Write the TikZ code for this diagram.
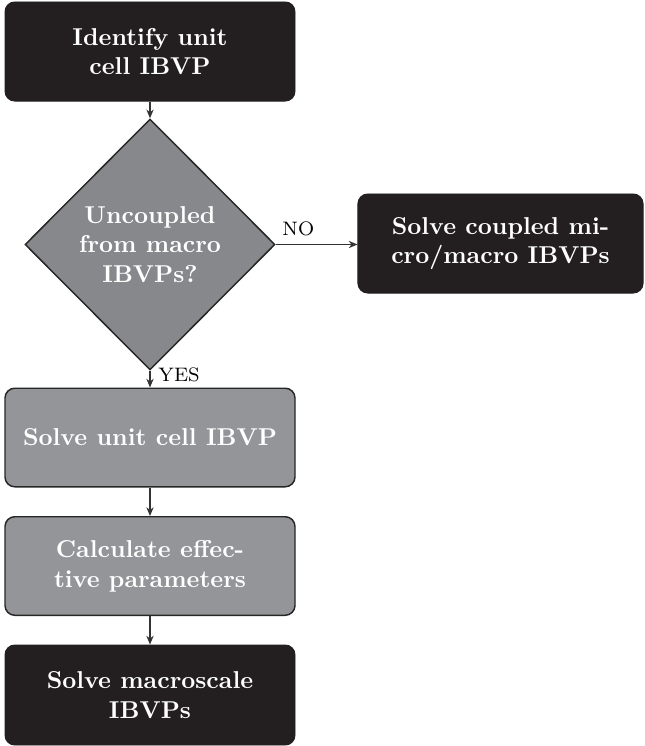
\documentclass[tikz,border=0pt]{standalone}
\usetikzlibrary{shapes.geometric,arrows.meta}
\definecolor{darkfill}{HTML}{231F20}
\definecolor{boxgray}{HTML}{939598}
\definecolor{diagray}{HTML}{87888B}
\tikzset{
  every node/.style={font=\fontsize{10}{12.2}\selectfont},
  darkbox/.style={rectangle, rounded corners=4pt, fill=darkfill, draw=darkfill,
    text=white, font=\fontsize{10}{12.2}\selectfont\bfseries, align=center,
    minimum width=118.9pt, minimum height=40.6pt, inner sep=0pt},
  graybox/.style={rectangle, rounded corners=4pt, fill=boxgray, draw=black!85, line width=0.6pt,
    text=white, font=\fontsize{10}{12.2}\selectfont\bfseries, align=center,
    minimum width=118.9pt, minimum height=40.4pt, inner sep=0pt},
  decision/.style={diamond, fill=diagray, draw=black!85, line width=0.6pt,
    text=white, font=\fontsize{10}{12.2}\selectfont\bfseries, align=center,
    minimum width=102.5pt, minimum height=102.9pt, inner sep=0pt},
  arr/.style={-{Stealth[length=3.6pt,width=3pt]}, line width=0.45pt, draw=black!80},
  lbl/.style={font=\footnotesize, inner sep=0pt}
}
\begin{document}
\begin{tikzpicture}[x=0.41pt, y=-0.41pt]
\useasboundingbox (0,0) rectangle (644,746);
\node[darkbox] (ident) at (150,51.5) {Identify unit\\cell IBVP};
\node[decision] (dec) at (150,244.5) {Uncoupled\\from macro\\IBVPs?};
\node[darkbox, minimum width=116.9pt, minimum height=40.6pt] (coupled) at (500.5,243.5) {Solve coupled mi-\\cro/macro IBVPs};
\node[graybox] (unit) at (150,437.5) {Solve unit cell IBVP};
\node[graybox] (calc) at (150,566) {Calculate effec-\\tive parameters};
\node[darkbox, minimum height=41pt] (macro) at (150,695) {Solve macroscale\\IBVPs};
\draw[arr] (ident.south) -- (dec.north);
\draw[arr] (dec.east) -- (dec.east -| coupled.west);
\draw[arr] (dec.south) -- (unit.north);
\draw[arr] (unit.south) -- (calc.north);
\draw[arr] (calc.south) -- (macro.north);
\node[lbl, anchor=south west] (no) at (282,236) {NO};
\node[lbl, anchor=west] (yes) at (158,374.5) {YES};
\end{tikzpicture}
\end{document}
